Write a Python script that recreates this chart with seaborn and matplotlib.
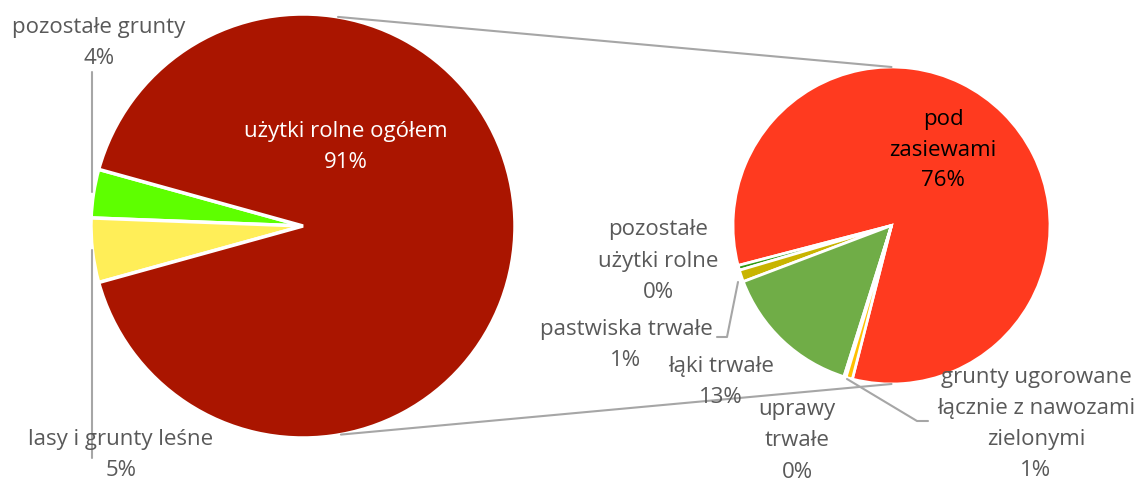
import numpy as np
import matplotlib
matplotlib.use("Agg")
import matplotlib.pyplot as plt
import seaborn as sns

# left pie (share of total area, %)
main_labels = ["pozostałe grunty", "lasy i grunty leśne", "użytki rolne ogółem"]
main_values = [3.7, 4.9, 91.4]
main_pct = ["4%", "5%", "91%"]
main_colors = ["#5EFF00", "#FFEE58", "#AA1500"]

# right pie: breakdown of "użytki rolne ogółem" (share of total area, %)
sub_labels = ["pod\nzasiewami", "pozostałe\nużytki rolne", "pastwiska trwałe",
              "łąki trwałe", "uprawy\ntrwałe",
              "grunty ugorowane\nłącznie z nawozami\nzielonymi"]
sub_values = [75.6, 0.45, 1.1, 13.1, 0.2, 0.6]
sub_pct = ["76%", "0%", "1%", "13%", "0%", "1%"]
sub_colors = ["#FF3A1F", "#2E9A10", "#C8B400", "#70AD47", "#FF9900", "#FFC000"]

sns.set_theme(style="white")
plt.rcParams["font.family"] = ["Open Sans", "DejaVu Sans"]

W, H = 1145, 482
fig = plt.figure(figsize=(W / 100, H / 100), dpi=100)
ax = fig.add_axes([0, 0, 1, 1])

c1, r1 = (303, H - 226), 212
c2, r2 = (891.5, H - 225.5), 158.5

ax.pie(main_values, colors=main_colors, startangle=164.5, counterclock=True,
       center=c1, radius=r1, wedgeprops=dict(edgecolor="white", linewidth=2.5),
       frame=True)
ax.pie(sub_values, colors=sub_colors, startangle=255.7, counterclock=True,
       center=c2, radius=r2, wedgeprops=dict(edgecolor="white", linewidth=2),
       frame=True)

ax.set_xlim(0, W)
ax.set_ylim(0, H)
ax.set_aspect("equal")
ax.axis("off")

gray = "#A6A6A6"
txt = "#595959"

# connector lines between the two pies
for a_left, a_right in [(80.5, 90), (-79.7, 270)]:
    p1 = (c1[0] + r1 * np.cos(np.radians(a_left)), c1[1] + r1 * np.sin(np.radians(a_left)))
    p2 = (c2[0] + r2 * np.cos(np.radians(a_right)), c2[1] + r2 * np.sin(np.radians(a_right)))
    ax.plot([p1[0], p2[0]], [p1[1], p2[1]], color=gray, lw=1.5, zorder=3)

# leader lines
def px(pts):
    xs = [p[0] for p in pts]
    ys = [H - p[1] for p in pts]
    return xs, ys

for pts in [[(92, 72), (92, 192)], [(92, 250), (92, 458)],
            [(738, 282), (727, 337), (717, 337)],
            [(847, 379), (917, 421), (928, 421)]]:
    xs, ys = px(pts)
    ax.plot(xs, ys, color=gray, lw=1.5, zorder=3)

fs = 16
step = 31  # px between label lines

def label(x, y, s, color=txt):
    # one text per line, centred as a block around (x, y)
    lines = s.split("\n")
    y0 = y - step * (len(lines) - 1) / 2
    for i, line in enumerate(lines):
        ax.text(x, H - (y0 + i * step), line, ha="center", va="center",
                fontsize=fs, color=color, zorder=5)

label(99, 43, main_labels[0] + "\n" + main_pct[0])
label(121, 455, main_labels[1] + "\n" + main_pct[1])
label(346, 147, main_labels[2] + "\n" + main_pct[2], color="white")

label(943, 150, sub_labels[0] + "\n" + sub_pct[0], color="black")
label(658, 261, sub_labels[1] + "\n" + sub_pct[1])
label(626, 345, sub_labels[2] + "\n" + sub_pct[2])
label(721, 382, sub_labels[3] + "\n" + sub_pct[3])
label(797, 441, sub_labels[4] + "\n" + sub_pct[4])
label(1036, 424, sub_labels[5] + "\n" + sub_pct[5])

fig.savefig("out.png", dpi=100, facecolor="white")
